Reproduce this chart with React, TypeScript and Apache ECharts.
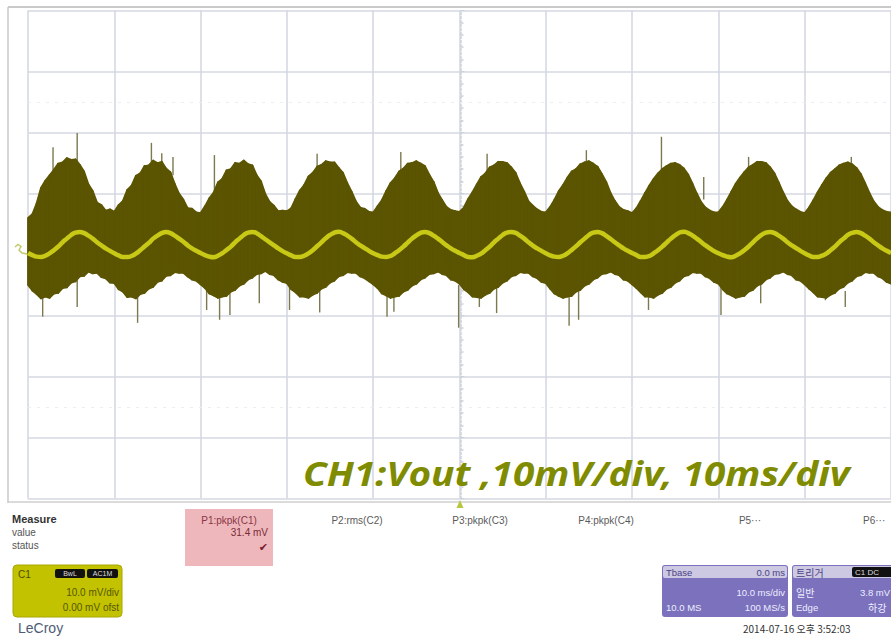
import React, { useEffect, useRef } from "react";
import * as echarts from "echarts";

// Oscilloscope capture: CH1 Vout, 10 mV/div, 10 ms/div
const SAMPLE_STEP_MS = 0.5;
const X_TICKS_MS = [0, 10, 20, 30, 40, 50, 60, 70, 80, 90, 100];
const Y_TICKS_MV = [-40, -30, -20, -10, 0, 10, 20, 30, 40];

// upper edge of the noise envelope (mV), one value every 0.5 ms from 0 to 100 ms
const UPPER_MV = [
  6.0, 6.6, 8.4, 10.9, 12.1, 13.0, 13.9, 14.9, 15.1, 15.8, 15.5, 15.6, 14.7, 13.6, 11.5, 10.4, 8.5, 8.1, 7.2, 7.4,
  7.0, 8.1, 8.8, 10.6, 11.3, 12.9, 13.3, 14.5, 14.6, 15.4, 15.0, 15.2, 14.1, 13.5, 11.6, 10.0, 9.0, 7.6, 7.5, 6.9,
  6.8, 7.9, 9.2, 10.1, 11.8, 12.4, 13.8, 14.0, 15.0, 14.9, 15.4, 14.8, 14.6, 13.0, 12.0, 9.9, 8.6, 8.0, 7.1, 7.2,
  7.1, 7.6, 9.1, 10.5, 11.4, 12.8, 13.4, 14.4, 14.7, 15.3, 15.1, 15.1, 14.2, 13.4, 11.7, 10.3, 8.7, 7.7, 7.5, 7.0,
  6.9, 7.9, 8.9, 10.4, 11.7, 12.5, 13.6, 14.1, 14.9, 15.0, 15.3, 14.9, 14.5, 13.1, 11.9, 10.1, 8.9, 7.8, 7.3, 7.1,
  7.0, 7.7, 9.1, 10.2, 11.5, 12.7, 13.3, 14.3, 14.6, 15.2, 15.2, 15.0, 14.3, 13.4, 11.7, 10.3, 8.7, 8.0, 7.4, 7.0,
  6.9, 7.8, 9.0, 10.4, 11.4, 12.6, 13.6, 14.0, 14.8, 15.1, 15.3, 14.9, 14.4, 13.2, 11.9, 10.1, 8.8, 7.8, 7.3, 7.1,
  6.8, 7.6, 8.8, 10.1, 11.3, 12.4, 13.3, 14.0, 14.5, 14.9, 15.0, 14.7, 14.1, 13.1, 11.6, 10.0, 8.6, 7.7, 7.2, 6.9,
  6.9, 7.8, 9.0, 10.3, 11.6, 12.6, 13.5, 14.3, 14.7, 15.2, 15.2, 15.0, 14.3, 13.3, 11.8, 10.2, 8.8, 7.9, 7.4, 7.0,
  6.8, 7.7, 8.9, 10.2, 11.4, 12.5, 13.4, 14.0, 14.6, 14.9, 15.1, 14.8, 14.2, 13.2, 11.7, 10.1, 8.7, 7.8, 7.3, 7.0,
  6.9,
];

// lower edge of the noise envelope (mV)
const LOWER_MV = [
  -5.0, -5.9, -6.5, -7.2, -6.9, -7.1, -6.4, -6.3, -5.5, -5.4, -4.6, -4.4, -3.6, -3.5, -2.8, -3.1, -3.0, -3.7, -3.9, -4.6,
  -4.7, -5.7, -6.1, -7.0, -6.9, -7.2, -6.5, -6.3, -5.6, -5.3, -4.5, -4.3, -3.5, -3.4, -2.9, -3.0, -3.0, -3.6, -4.1, -4.3,
  -4.9, -5.5, -6.4, -6.7, -7.1, -6.9, -6.8, -6.1, -5.8, -5.1, -4.8, -4.1, -3.8, -3.2, -3.1, -2.7, -3.2, -3.4, -4.1, -4.5,
  -4.7, -5.7, -6.2, -6.9, -6.9, -7.1, -6.6, -6.3, -5.6, -5.3, -4.6, -4.3, -3.6, -3.4, -2.9, -3.0, -3.0, -3.6, -3.9, -4.4,
  -4.9, -5.5, -6.4, -6.7, -7.1, -6.9, -6.8, -6.1, -5.8, -5.1, -4.8, -4.1, -3.8, -3.2, -3.1, -2.8, -3.2, -3.4, -4.1, -4.3,
  -4.8, -5.7, -6.2, -6.9, -7.0, -7.1, -6.6, -6.3, -5.6, -5.3, -4.6, -4.3, -3.6, -3.4, -2.9, -3.0, -3.0, -3.6, -3.9, -4.5,
  -4.7, -5.6, -6.4, -6.8, -7.1, -6.9, -6.8, -6.1, -5.8, -5.1, -4.8, -4.1, -3.8, -3.2, -3.1, -2.8, -3.2, -3.4, -4.1, -4.3,
  -4.9, -5.5, -6.2, -6.9, -6.9, -7.1, -6.6, -6.3, -5.6, -5.3, -4.6, -4.3, -3.6, -3.4, -2.9, -3.0, -3.0, -3.6, -3.9, -4.5,
  -4.8, -5.7, -6.4, -6.7, -7.1, -6.9, -6.8, -6.1, -5.8, -5.1, -4.8, -4.1, -3.8, -3.2, -3.1, -2.8, -3.2, -3.4, -4.1, -4.3,
  -4.9, -5.6, -6.2, -6.9, -7.0, -7.1, -6.6, -6.3, -5.6, -5.3, -4.6, -4.3, -3.6, -3.4, -2.9, -3.0, -3.0, -3.6, -3.9, -4.5,
  -4.8,
];

// averaged (bright yellow) trace (mV)
const MEAN_MV = [
  0.25, -0.1, -0.35, -0.4, -0.2, 0.2, 0.7, 1.3, 2.0, 2.6, 3.2, 3.6, 3.7, 3.5, 3.1, 2.6, 2.0, 1.5, 1.0, 0.6,
  0.2, -0.15, -0.4, -0.4, -0.25, 0.15, 0.7, 1.3, 1.9, 2.6, 3.1, 3.5, 3.7, 3.5, 3.1, 2.6, 2.1, 1.5, 1.0, 0.6,
  0.25, -0.1, -0.35, -0.45, -0.2, 0.2, 0.75, 1.3, 2.0, 2.6, 3.2, 3.6, 3.7, 3.5, 3.0, 2.5, 2.0, 1.5, 1.0, 0.55,
  0.2, -0.15, -0.4, -0.4, -0.2, 0.2, 0.7, 1.35, 2.0, 2.65, 3.2, 3.6, 3.75, 3.5, 3.1, 2.6, 2.0, 1.5, 1.05, 0.6,
  0.2, -0.1, -0.35, -0.4, -0.25, 0.2, 0.7, 1.3, 1.95, 2.6, 3.15, 3.55, 3.7, 3.5, 3.1, 2.6, 2.05, 1.5, 1.0, 0.6,
  0.25, -0.1, -0.4, -0.45, -0.2, 0.15, 0.7, 1.3, 2.0, 2.6, 3.2, 3.6, 3.7, 3.55, 3.1, 2.6, 2.0, 1.45, 1.0, 0.6,
  0.2, -0.15, -0.35, -0.4, -0.2, 0.2, 0.75, 1.35, 2.0, 2.6, 3.2, 3.6, 3.7, 3.5, 3.05, 2.55, 2.0, 1.5, 1.0, 0.6,
  0.25, -0.1, -0.4, -0.4, -0.25, 0.2, 0.7, 1.3, 1.95, 2.6, 3.15, 3.6, 3.75, 3.5, 3.1, 2.6, 2.05, 1.5, 1.0, 0.55,
  0.2, -0.1, -0.35, -0.45, -0.2, 0.2, 0.7, 1.3, 2.0, 2.65, 3.2, 3.6, 3.7, 3.5, 3.1, 2.6, 2.0, 1.5, 1.05, 0.6,
  0.2, -0.15, -0.4, -0.4, -0.2, 0.15, 0.7, 1.3, 2.0, 2.6, 3.2, 3.55, 3.7, 3.5, 3.1, 2.6, 2.0, 1.5, 1.0, 0.6,
  0.25,
];

// isolated glitch spikes: [time ms, base mV, tip mV]
const SPIKES_UP = [
  [2.9, 11, 17.6], [5.7, 15, 19.9], [14.3, 14, 18.3], [15.5, 15, 16.6], [16.8, 13, 16.0],
  [21.6, 10, 16.3], [33.5, 12, 16.5], [43.2, 12, 16.8], [53.2, 13, 16.5], [64.7, 12, 17.1],
  [73.4, 12, 19.3], [78.3, 9, 12.7], [83.5, 14, 16.0], [95.4, 14, 16.0],
];
const SPIKES_DOWN = [
  [1.7, -6, -10.2], [5.7, -4, -8.6], [12.7, -6, -11.2], [20.7, -5, -9.1], [22.2, -6, -10.7],
  [23.4, -6, -9.9], [26.8, -3, -8.0], [30.3, -4.5, -9.1], [33.8, -5, -9.5], [41.6, -6, -10.2],
  [42.4, -6, -9.4], [49.9, -5, -12.0], [52.3, -6, -8.6], [54.3, -5, -9.6], [62.7, -6, -11.7],
  [63.8, -6, -10.7], [71.9, -6, -9.1], [80.3, -5, -9.9], [84.9, -5, -8.0], [92.4, -6, -7.5],
  [94.7, -6, -8.6],
];

const MEASURE_HEADERS = ["P1:pkpk(C1)", "P2:rms(C2)", "P3:pkpk(C3)", "P4:pkpk(C4)", "P5\u00b7\u00b7\u00b7", "P6\u00b7\u00b7\u00b7"];
const MEASURE_VALUE = "31.4 mV";
const TITLE = "CH1:Vout ,10mV/div, 10ms/div";

const TIME_MS = UPPER_MV.map((_, i) => i * SAMPLE_STEP_MS);

const FONT = '"Liberation Sans", Arial, sans-serif';

export default function App() {
  const ref = useRef<HTMLDivElement>(null);

  useEffect(() => {
    if (!ref.current) return;
    const chart = echarts.init(ref.current, undefined, { renderer: "svg" });

    const spikeRender = (color: string) => (params: any, api: any) => {
      const a = api.coord([api.value(0), api.value(1)]);
      const b = api.coord([api.value(0), api.value(2)]);
      return {
        type: "line",
        shape: { x1: a[0], y1: a[1], x2: b[0], y2: b[1] },
        style: { stroke: color, lineWidth: 1.4 },
      };
    };

    // envelope segments: [t0, low0, up0, t1, low1, up1]
    const envData = TIME_MS.slice(0, -1).map((t, i) => [
      t, LOWER_MV[i], UPPER_MV[i], TIME_MS[i + 1], LOWER_MV[i + 1], UPPER_MV[i + 1],
    ]);
    const envRender = (params: any, api: any) => {
      const p1 = api.coord([api.value(0), api.value(2)]);
      const p2 = api.coord([api.value(3), api.value(5)]);
      const p3 = api.coord([api.value(3), api.value(4)]);
      const p4 = api.coord([api.value(0), api.value(1)]);
      return {
        type: "polygon",
        shape: { points: [p1, p2, p3, p4] },
        style: { fill: "#5b5400", stroke: "#5b5400", lineWidth: 1.8, lineJoin: "round" },
      };
    };

    const txt = (x: number, y: number, text: string, extra: any = {}) => ({
      type: "text",
      x,
      y,
      silent: true,
      style: {
        text,
        fill: "#555",
        font: `10px ${FONT}`,
        textVerticalAlign: "middle",
        ...extra,
      },
    });

    const headerXs = [229, 357, 480, 606, 750, 863];

    const graphic: any[] = [
      // screen frame
      { type: "line", shape: { x1: 8, y1: 7, x2: 891, y2: 7 }, style: { stroke: "#c9c9c9", lineWidth: 2 } },
      { type: "line", shape: { x1: 8, y1: 7, x2: 8, y2: 503 }, style: { stroke: "#c9c9c9", lineWidth: 1.5 } },
      { type: "line", shape: { x1: 8, y1: 502, x2: 891, y2: 502 }, style: { stroke: "#cfcfcf", lineWidth: 1.5 } },
      // trigger marker
      { type: "polygon", shape: { points: [[460, 500], [456.5, 508], [463.5, 508]] }, style: { fill: "#b9c640" } },
      // channel marker at left
      {
        type: "polyline",
        shape: { points: [[15, 247], [18, 244.5], [21, 246.5], [19, 250], [22, 253], [27, 254]] },
        style: { stroke: "#c3c96a", lineWidth: 1.5, fill: null },
      },
      // title
      {
        type: "text",
        x: 303,
        y: 473,
        scaleX: 1.14,
        silent: true,
        z: 10,
        style: {
          text: TITLE,
          fill: "#7f8b00",
          font: `italic bold 34px "Noto Sans", sans-serif`,
          textVerticalAlign: "middle",
        },
      },
      // measure table
      txt(12, 519, "Measure", { fill: "#333", font: `bold 11px ${FONT}` }),
      txt(12, 532, "value", { fill: "#555" }),
      txt(12, 545, "status", { fill: "#555" }),
      { type: "rect", shape: { x: 185, y: 509, width: 88, height: 57 }, style: { fill: "#edb7bb" } },
      ...MEASURE_HEADERS.map((h, i) =>
        txt(headerXs[i], 520, h, {
          textAlign: i === 5 ? "left" : "center",
          fill: i === 0 ? "#8a3544" : "#5a5a5a",
        })
      ),
      txt(268, 532, MEASURE_VALUE, { textAlign: "right", fill: "#7a2a36" }),
      txt(268, 547, "\u2714", { textAlign: "right", fill: "#7a2030", font: `11px "DejaVu Sans", sans-serif` }),
      // C1 channel box
      { type: "rect", shape: { x: 13, y: 565, width: 109, height: 52, r: 4 }, style: { fill: "#c2c200", stroke: "#a8a800", lineWidth: 1 } },
      txt(18, 574, "C1", { fill: "#4f4f00", font: `10px ${FONT}` }),
      { type: "rect", shape: { x: 55, y: 569, width: 30, height: 9, r: 2 }, style: { fill: "#111" } },
      { type: "rect", shape: { x: 87, y: 569, width: 31, height: 9, r: 2 }, style: { fill: "#111" } },
      txt(70, 573.5, "BwL", { textAlign: "center", fill: "#ddd", font: `7px ${FONT}` }),
      txt(102.5, 573.5, "AC1M", { textAlign: "center", fill: "#ddd", font: `7px ${FONT}` }),
      txt(119, 592, "10.0 mV/div", { textAlign: "right", fill: "#575700" }),
      txt(119, 607, "0.00 mV ofst", { textAlign: "right", fill: "#575700" }),
      txt(18, 628, "LeCroy", { fill: "#4d5c74", font: `14px ${FONT}` }),
      // Tbase box
      { type: "rect", shape: { x: 662, y: 565, width: 126, height: 52, r: 3 }, style: { fill: "#7b71bd" } },
      { type: "rect", shape: { x: 663, y: 566, width: 124, height: 12, r: 2 }, style: { fill: "#cdc9e2" } },
      txt(666, 572, "Tbase", { fill: "#4a4284", font: `9.5px ${FONT}` }),
      txt(785, 572, "0.0 ms", { textAlign: "right", fill: "#4a4284", font: `9.5px ${FONT}` }),
      txt(785, 592, "10.0 ms/div", { textAlign: "right", fill: "#eeeeff", font: `9.5px ${FONT}` }),
      txt(666, 607, "10.0 MS", { fill: "#eeeeff", font: `9.5px ${FONT}` }),
      txt(785, 607, "100 MS/s", { textAlign: "right", fill: "#eeeeff", font: `9.5px ${FONT}` }),
      // trigger box
      { type: "rect", shape: { x: 792, y: 565, width: 110, height: 52, r: 3 }, style: { fill: "#7b71bd" } },
      { type: "rect", shape: { x: 793, y: 566, width: 108, height: 12, r: 2 }, style: { fill: "#cdc9e2" } },
      { type: "rect", shape: { x: 852, y: 567, width: 45, height: 10, r: 2 }, style: { fill: "#111" } },
      txt(855, 572, "C1 DC", { fill: "#ddd", font: `8px ${FONT}` }),
      txt(796, 572, "트리거", { fill: "#4a4284", font: `10px "Noto Sans CJK KR", sans-serif` }),
      txt(796, 592, "일반", { fill: "#eeeeff", font: `10px "Noto Sans CJK KR", sans-serif` }),
      txt(860, 592, "3.8 mV", { fill: "#eeeeff", font: `9.5px ${FONT}` }),
      txt(796, 607, "Edge", { fill: "#eeeeff", font: `9.5px ${FONT}` }),
      txt(868, 607, "하강", { fill: "#eeeeff", font: `10px "Noto Sans CJK KR", sans-serif` }),
      // timestamp
      txt(743, 628, "2014-07-16 오후 3:52:03", { fill: "#333", font: `10px "Noto Sans CJK KR", sans-serif` }),
    ];

    chart.setOption({
      animation: false,
      backgroundColor: "#ffffff",
      grid: { left: 28, top: 10.5, width: 865, height: 488, containLabel: false },
      xAxis: {
        type: "value",
        min: X_TICKS_MS[0],
        max: X_TICKS_MS[X_TICKS_MS.length - 1],
        interval: 10,
        axisLine: { show: false },
        axisTick: { show: false },
        axisLabel: { show: false },
        splitLine: { show: true, lineStyle: { color: "#d5d9e2", width: 1.6 } },
      },
      yAxis: [
        {
          type: "value",
          min: Y_TICKS_MV[0],
          max: Y_TICKS_MV[Y_TICKS_MV.length - 1],
          interval: 10,
          axisLine: { show: false },
          axisTick: { show: false },
          axisLabel: { show: false },
          splitLine: { show: true, lineStyle: { color: "#d5d9e2", width: 1.6 } },
        },
        {
          type: "value",
          position: "left",
          offset: -432.5,
          min: Y_TICKS_MV[0],
          max: Y_TICKS_MV[Y_TICKS_MV.length - 1],
          interval: 10,
          axisLine: { show: true, lineStyle: { color: "#cdd1da", width: 1.5, type: [2, 2] } },
          axisTick: { show: true, inside: true, length: 4, lineStyle: { color: "#cdd1da" } },
          minorTick: { show: true, splitNumber: 5, length: 3, lineStyle: { color: "#cdd1da", width: 1.5 } },
          axisLabel: { show: false },
          splitLine: { show: false },
        },
      ],
      graphic,
      series: [
        {
          type: "line",
          name: "guides",
          data: [[0, 0]],
          symbol: "none",
          lineStyle: { opacity: 0 },
          markLine: {
            silent: true,
            symbol: "none",
            label: { show: false },
            lineStyle: { color: "#eceef1", width: 1.2, type: [3, 6] },
            data: [{ yAxis: 25 }, { yAxis: -25 }],
          },
        },
        {
          type: "custom",
          name: "spikesUp",
          renderItem: spikeRender("#7c7950"),
          data: SPIKES_UP,
          encode: { x: 0, y: [1, 2] },
          z: 1,
        },
        {
          type: "custom",
          name: "spikesDown",
          renderItem: spikeRender("#7c7950"),
          data: SPIKES_DOWN,
          encode: { x: 0, y: [1, 2] },
          z: 1,
        },
        {
          type: "custom",
          name: "envelope",
          renderItem: envRender,
          data: envData,
          encode: { x: [0, 3], y: [1, 2, 4, 5] },
          z: 2,
        },
        {
          type: "line",
          name: "mean",
          smooth: true,
          symbol: "none",
          lineStyle: { color: "#c8c816", width: 4.5 },
          data: TIME_MS.map((t, i) => [t, MEAN_MV[i]]),
          z: 3,
        },
      ],
    });

    return () => chart.dispose();
  }, []);

  return (
    <div
      ref={ref}
      style={{ position: "fixed", left: 0, top: 0, width: 891, height: 636, background: "#fff" }}
    />
  );
}
